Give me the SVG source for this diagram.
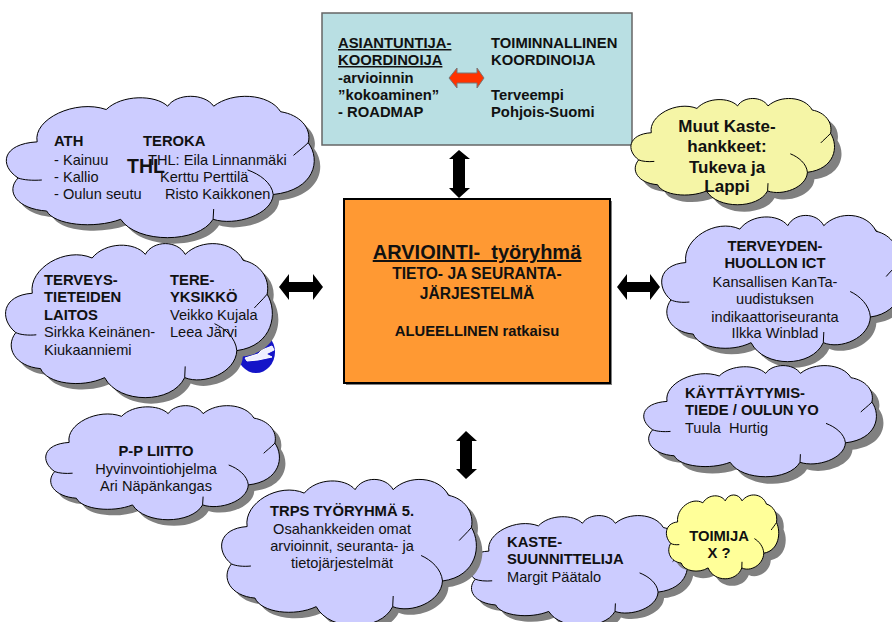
<svg xmlns="http://www.w3.org/2000/svg" width="892" height="622" viewBox="0 0 892 622">
<style>
text{font-family:"Liberation Sans",Arial,sans-serif;font-size:14.6px;fill:#111}
.b{font-weight:bold;font-size:14.8px}
.m{text-anchor:middle}
.u{text-decoration:underline}
.out{stroke:#000;stroke-width:1}
.in{fill:none;stroke:#000;stroke-width:1}
.sh{fill:#808080;stroke:none}
.lilac{fill:#ccccff}
.pale{fill:#f5f5a6}
.yel{fill:#ffff99}
.blk{fill:#000}
</style>
<defs>
<path id="c" vector-effect="non-scaling-stroke" d="M9.5,33.7C8,18 22,4 32,11.4C37,1 48,1 52,9.1C55,0 64,0 67,9.1C73,-1 85,0 88.8,12.9C95,15 99,24 97.8,34.3C102,46 100,67 86.4,70C86,84 74,92 66.8,87.1C62,104 42,104 36.7,87.1C28,94 15,91 12.6,81.4C3,80 -1,68 3.3,58.6C-3,50 -2,35 9.5,33.7Z"/>
</defs>

<g id="connectors">
<path class="blk" d="M459,150L470,159H465V188H470L459,198L449,188H453V159H449Z"/>
<path class="blk" d="M279,287L289,274V282H313V274L323,287L313,300V292H289V300Z"/>
<path class="blk" d="M617,287L627,274V282H650V274L660,287L650,300V292H627V300Z"/>
<path class="blk" d="M466,431L477,441H472V469H477L466,479L456,469H460V441H456Z"/>
</g>

<g id="box-koordinoija">
<rect x="322" y="13" width="310" height="132" fill="#b9dfe3" stroke="#666" stroke-width="1.500"/>
<text class="b u" x="338" y="48">ASIANTUNTIJA-</text>
<text class="b u" x="338" y="65">KOORDINOIJA</text>
<text class="b" x="338" y="83">-arvioinnin</text>
<text class="b" x="338" y="100">”kokoaminen”</text>
<text class="b" x="338" y="117">- ROADMAP</text>
<text class="b" x="491" y="48">TOIMINNALLINEN</text>
<text class="b" x="491" y="65">KOORDINOIJA</text>
<text class="b" x="491" y="100">Terveempi</text>
<text class="b" x="491" y="117">Pohjois-Suomi</text>
<path d="M449,78L457,68V73H477V68L484,78L477,88V83H457V88Z" fill="#ff3300" stroke="#777" stroke-width="1"/>
</g>

<g id="box-arviointi">
<rect x="346" y="201" width="266" height="184" fill="#808080"/>
<rect x="344" y="199" width="266" height="184" fill="#ff9933" stroke="#000" stroke-width="2"/>
<text class="b m u" x="477" y="259" style="font-size:20px" xml:space="preserve">ARVIOINTI-  työryhmä</text>
<text class="b m" x="477" y="279" style="font-size:15.600px">TIETO- JA SEURANTA-</text>
<text class="b m" x="477" y="299" style="font-size:15.600px">JÄRJESTELMÄ</text>
<text class="b m" x="477" y="336" style="font-size:14.800px">ALUEELLINEN ratkaisu</text>
</g>

<g id="cloud-ath">
<use href="#c" class="sh" transform="translate(14,99) scale(3.07,1.45)"/>
<use href="#c" class="out lilac" transform="translate(8,93) scale(3.07,1.45)"/>
<path class="in" d="M18.1,178C23.4,180 32.6,180.7 41.8,180M273.2,194.5C272,182.900 259.700,174.200 247.500,169.900M308.200,142.700C302.700,148.100 296.600,152.500 293.500,155.400M213.100,219.300L213.700,209"/>
<text class="b" x="54" y="146">ATH</text>
<text x="54" y="165">- Kainuu</text>
<text x="54" y="182">- Kallio</text>
<text x="54" y="199">- Oulun seutu</text>
<text class="b" x="143" y="146">TEROKA</text>
<text x="148" y="165">THL: Eila Linnanmäki</text>
<text x="160" y="182">Kerttu Perttilä</text>
<text x="165" y="199">Risto Kaikkonen</text>
<text class="b" x="127" y="173" style="font-size:19.500px">THL</text>
</g>

<g id="logo">
<ellipse cx="256" cy="352" rx="19" ry="21" fill="#1414c8"/>
<path d="M245,358L258,354L262,350L272,346L274,350L266,354L272,357L258,360L247,361Z" fill="#eef" stroke="#fff"/>
</g>

<g id="cloud-terveystieteiden">
<use href="#c" class="sh" transform="translate(13,246) scale(2.66,1.58)"/>
<use href="#c" class="out lilac" transform="translate(7,240) scale(2.66,1.58)"/>
<path class="in" d="M15.800,332.600C20.300,334.800 28.300,335.600 36.300,334.800M236.800,350.600C235.800,338 225.100,328.500 214.500,323.700M267.100,294.200C262.400,300 257,304.800 254.400,307.900M184.700,377.600L185.200,366.400"/>
<text class="b" x="44" y="285">TERVEYS-</text>
<text class="b" x="44" y="302">TIETEIDEN</text>
<text class="b" x="44" y="320">LAITOS</text>
<text x="44" y="337">Sirkka Keinänen-</text>
<text x="44" y="355">Kiukaanniemi</text>
<text class="b" x="170" y="285">TERE-</text>
<text class="b" x="170" y="302">YKSIKKÖ</text>
<text x="170" y="320">Veikko Kujala</text>
<text x="170" y="337">Leea Järvi</text>
</g>

<g id="cloud-pp-liitto">
<use href="#c" class="sh" transform="translate(53,409) scale(2.33,1.17)"/>
<use href="#c" class="out lilac" transform="translate(47,403) scale(2.33,1.17)"/>
<path class="in" d="M54.700,471.600C58.700,473.200 65.600,473.800 72.600,473.200M248.300,484.900C247.400,475.500 238.100,468.500 228.700,465M274.900,443.100C270.700,447.500 266,451 263.700,453.300M202.600,504.900L203.100,496.600"/>
<text class="b m" x="156" y="456">P-P LIITTO</text>
<text class="m" x="156" y="474">Hyvinvointiohjelma</text>
<text class="m" x="156" y="491">Ari Näpänkangas</text>
</g>

<g id="cloud-kaste">
<use href="#c" class="sh" transform="translate(474,519) scale(2.2,1.13)"/>
<use href="#c" class="out lilac" transform="translate(468,513) scale(2.2,1.13)"/>
<path class="in" d="M475.300,579.200C479,580.800 485.600,581.400 492.200,580.800M658.100,592.100C657.200,583.100 648.400,576.300 639.600,572.900M683.200,551.800C679.200,555.900 674.800,559.300 672.600,561.600M615,611.400L615.400,603.400"/>
<text class="b" x="507" y="547">KASTE-</text>
<text class="b" x="507" y="564">SUUNNITTELIJA</text>
<text x="507" y="582">Margit Päätalo</text>
</g>

<g id="cloud-trps">
<use href="#c" class="sh" transform="translate(229,482) scale(2.54,1.5)"/>
<use href="#c" class="out lilac" transform="translate(223,476) scale(2.54,1.5)"/>
<path class="in" d="M231.400,563.900C235.700,566 243.300,566.800 250.900,566M442.500,581C441.400,569 431.300,560 421.100,555.500M471.400,527.500C466.800,533 461.800,537.500 459.200,540.500M392.700,606.700L393.200,596"/>
<text class="b m" x="342" y="516">TRPS TYÖRYHMÄ 5.</text>
<text class="m" x="342" y="534">Osahankkeiden omat</text>
<text class="m" x="342" y="551">arvioinnit, seuranta- ja</text>
<text class="m" x="342" y="568">tietojärjestelmät</text>
</g>

<g id="cloud-toimija">
<use href="#c" class="sh" transform="translate(674,500) scale(1.12,.86)"/>
<use href="#c" class="out yel" transform="translate(667,493) scale(1.12,.86)"/>
<path class="in" d="M670.700,543.400C672.600,544.600 676,545 679.300,544.600M763.800,553.200C763.300,546.300 758.800,541.200 754.400,538.600M776.500,522.500C774.500,525.700 772.300,528.300 771.200,530M741.800,567.900L742,561.800"/>
<text class="b m" x="719" y="541">TOIMIJA</text>
<text class="b m" x="719" y="558">X ?</text>
</g>

<g id="cloud-muut">
<use href="#c" class="sh" transform="translate(639,103) scale(2.03,1.09)"/>
<use href="#c" class="out pale" transform="translate(632,96) scale(2.03,1.09)"/>
<path class="in" d="M638.700,159.900C642.200,161.400 648.200,162 654.300,161.400M807.400,172.300C806.600,163.600 798.500,157 790.300,153.800M830.500,133.400C826.900,137.400 822.800,140.700 820.800,142.900M767.600,190.900L768,183.200"/>
<text class="b m" x="727" y="132" style="font-size:17px">Muut Kaste-</text>
<text class="b m" x="727" y="152" style="font-size:17px">hankkeet:</text>
<text class="b m" x="727" y="173" style="font-size:17px">Tukeva ja</text>
<text class="b m" x="727" y="192" style="font-size:17px">Lappi</text>
</g>

<g id="cloud-terveydenhuollon">
<use href="#c" class="sh" transform="translate(669,218) scale(2.4,1.5)"/>
<use href="#c" class="out lilac" transform="translate(663,212) scale(2.4,1.5)"/>
<path class="in" d="M670.900,299.900C675,302 682.200,302.800 689.400,302M870.400,317C869.400,305 859.800,296 850.200,291.500M897.700,263.500C893.400,269 888.600,273.500 886.200,276.500M823.300,342.700L823.800,332"/>
<text class="b m" x="775" y="251">TERVEYDEN-</text>
<text class="b m" x="775" y="268">HUOLLON ICT</text>
<text class="m" x="775" y="287">Kansallisen KanTa-</text>
<text class="m" x="775" y="304">uudistuksen</text>
<text class="m" x="775" y="322">indikaattoriseuranta</text>
<text class="m" x="775" y="338">Ilkka Winblad</text>
</g>

<g id="cloud-kayttaytymis">
<use href="#c" class="sh" transform="translate(652,370) scale(2.32,1.14)"/>
<use href="#c" class="out lilac" transform="translate(645,363) scale(2.32,1.14)"/>
<path class="in" d="M652.700,429.800C656.600,431.400 663.600,432 670.500,431.400M845.400,442.800C844.500,433.700 835.200,426.800 826,423.400M871.900,402.100C867.700,406.300 863.100,409.700 860.800,412M800,462.300L800.400,454.200"/>
<text class="b" x="685" y="398">KÄYTTÄYTYMIS-</text>
<text class="b" x="685" y="415">TIEDE / OULUN YO</text>
<text x="685" y="433" xml:space="preserve">Tuula  Hurtig</text>
</g>
</svg>
